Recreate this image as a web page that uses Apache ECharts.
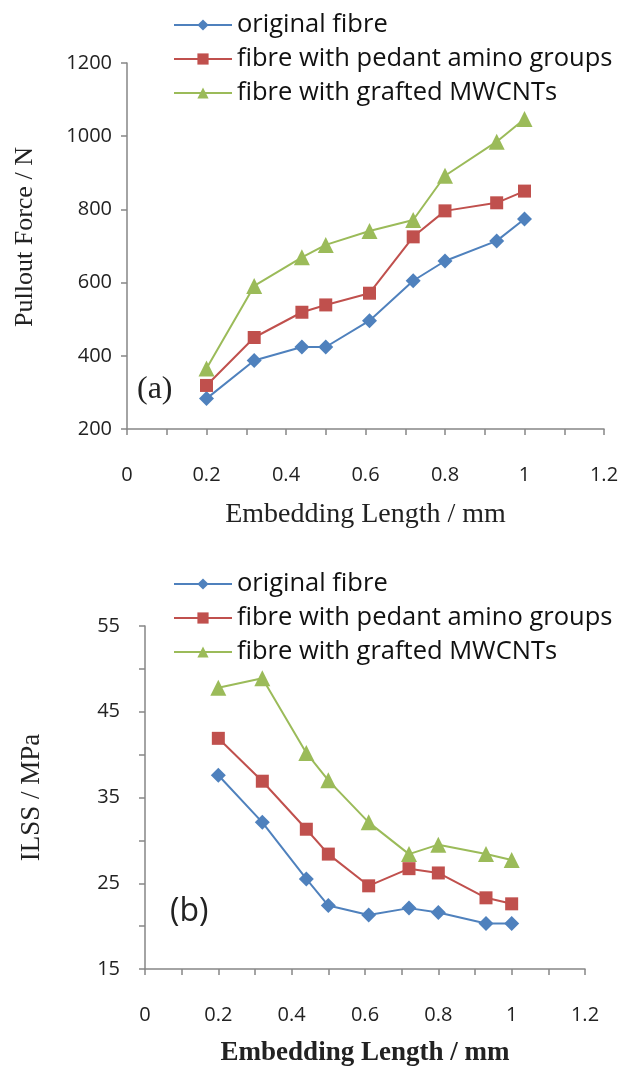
<!DOCTYPE html>
<html><head><meta charset="utf-8">
<script src="https://cdn.jsdelivr.net/npm/echarts@6/dist/echarts.min.js"></script>
<style>html,body{margin:0;padding:0;background:#fff}#c{width:624px;height:1068px}</style>
</head><body><div id="c"></div>
<script>
var seriesNames = ['original fibre', 'fibre with pedant amino groups', 'fibre with grafted MWCNTs'];
var embedLen = [0.2, 0.32, 0.44, 0.5, 0.61, 0.72, 0.8, 0.93, 1.0];
var pulloutOriginal = [283, 387, 424, 424, 496, 605, 659, 714, 774];
var pulloutAmino = [319, 450, 519, 539, 571, 725, 796, 818, 850];
var pulloutMWCNT = [365, 591, 669, 703, 741, 771, 892, 985, 1047];
var ilssOriginal = [37.6, 32.1, 25.5, 22.4, 21.3, 22.1, 21.6, 20.3, 20.3];
var ilssAmino = [41.9, 36.9, 31.3, 28.4, 24.7, 26.7, 26.2, 23.3, 22.6];
var ilssMWCNT = [47.8, 48.9, 40.2, 37.0, 32.1, 28.4, 29.5, 28.4, 27.7];

var colors = ['#4F81BD', '#C0504D', '#9BBB59'];
var symbols = ['diamond', 'rect', 'triangle'];
var symSizes = [15, 13, 16];
var axisGray = '#868686';
var sansFont = 'Open Sans';
var serifFont = 'Liberation Serif';

function pairs(xs, ys) { return xs.map(function (x, i) { return [x, ys[i]]; }); }

function mkSeries(idx, data, axisIdx) {
  return {
    name: seriesNames[idx], type: 'line', xAxisIndex: axisIdx, yAxisIndex: axisIdx,
    data: pairs(embedLen, data), symbol: symbols[idx], symbolSize: symSizes[idx],
    lineStyle: { color: colors[idx], width: 2 }, itemStyle: { color: colors[idx] },
    animation: false
  };
}

function xAx(gi) {
  return {
    type: 'value', gridIndex: gi, min: 0, max: 1.2, interval: 0.2,
    name: 'Embedding Length / mm', nameLocation: 'middle', nameGap: gi === 1 ? 71 : 72,
    nameTextStyle: { fontFamily: serifFont, fontSize: gi === 1 ? 27 : 28, color: '#222', fontWeight: gi === 1 ? 'bold' : 'normal' },
    axisLine: { lineStyle: { color: axisGray, width: 1.5 } },
    axisTick: { show: true, length: 6, lineStyle: { color: axisGray, width: 1.5 } },
    minorTick: { show: true, splitNumber: 2, length: 6, lineStyle: { color: axisGray, width: 1.5 } },
    axisLabel: { margin: 36, fontFamily: sansFont, fontSize: 20, color: '#222',
      formatter: function (v) { return String(+v.toFixed(1)); } },
    splitLine: { show: false }
  };
}

function legendAt(top) {
  return { data: seriesNames, orient: 'vertical', left: 168, top: top, itemWidth: 58, itemHeight: 14, itemGap: 8,
    textStyle: { fontFamily: sansFont, fontSize: 25.5, color: '#111' } };
}

var option = {
  backgroundColor: '#fff',
  animation: false,
  grid: [
    { left: 127, top: 63, width: 477, height: 366 },
    { left: 145, top: 626, width: 440, height: 344 }
  ],
  legend: [legendAt(7), legendAt(566)],
  xAxis: [xAx(0), xAx(1)],
  yAxis: [
    { type: 'value', gridIndex: 0, min: 200, max: 1200, interval: 200,
      name: 'Pullout Force / N', nameLocation: 'middle', nameGap: 89, nameRotate: 90,
      nameTextStyle: { fontFamily: serifFont, fontSize: 26, color: '#222', padding: [0, 0, 0, 18] },
      axisLine: { show: true, lineStyle: { color: axisGray, width: 1.5 } },
      axisTick: { show: true, length: 6, lineStyle: { color: axisGray, width: 1.5 } },
      axisLabel: { margin: 15, fontFamily: sansFont, fontSize: 20, color: '#222',
        formatter: function (v) { return String(v); } },
      splitLine: { show: false } },
    { type: 'value', gridIndex: 1, min: 15, max: 55, interval: 10,
      name: 'ILSS / MPa', nameLocation: 'middle', nameGap: 100, nameRotate: 90,
      nameTextStyle: { fontFamily: serifFont, fontSize: 27, color: '#222' },
      axisLine: { show: true, lineStyle: { color: axisGray, width: 1.5 } },
      axisTick: { show: true, length: 6, lineStyle: { color: axisGray, width: 1.5 } },
      minorTick: { show: true, splitNumber: 2, length: 6, lineStyle: { color: axisGray, width: 1.5 } },
      axisLabel: { margin: 25, fontFamily: sansFont, fontSize: 20, color: '#222',
        formatter: function (v) { return String(v); } },
      splitLine: { show: false } }
  ],
  graphic: [
    { type: 'text', left: 137, top: 374, style: { text: '(a)', font: '32px "Liberation Serif"', fill: '#222' } },
    { type: 'text', left: 170, top: 896, style: { text: '(b)', font: '32px "Open Sans"', fill: '#222' } }
  ],
  series: [
    mkSeries(0, pulloutOriginal, 0), mkSeries(1, pulloutAmino, 0), mkSeries(2, pulloutMWCNT, 0),
    mkSeries(0, ilssOriginal, 1), mkSeries(1, ilssAmino, 1), mkSeries(2, ilssMWCNT, 1)
  ]
};
var chart = echarts.init(document.getElementById('c'), null, { renderer: 'canvas' });
chart.setOption(option);
</script>
</body></html>
